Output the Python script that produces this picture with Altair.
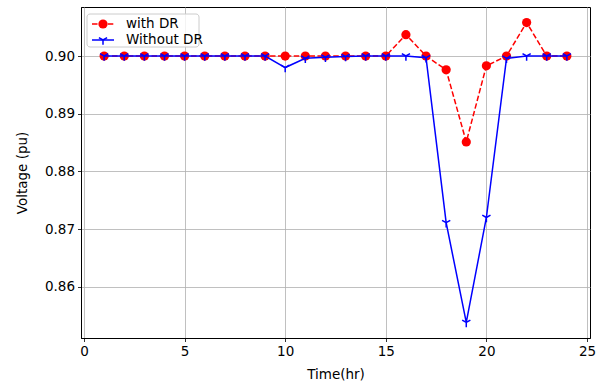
import altair as alt
import pandas as pd

hours = list(range(1, 25))
with_dr = [0.900] * 9 + [0.900, 0.900, 0.900, 0.900, 0.900, 0.900, 0.9037, 0.900,
                         0.8976, 0.8851, 0.8983, 0.900, 0.9058, 0.900, 0.900]
without_dr = [0.900] * 9 + [0.8980, 0.8996, 0.8998, 0.8999, 0.900, 0.900, 0.900, 0.8997,
                            0.8711, 0.8538, 0.8720, 0.8996, 0.900, 0.900, 0.900]
series_names = ["with DR", "Without DR"]
x_ticks = [0, 5, 10, 15, 20, 25]
y_ticks = [0.86, 0.87, 0.88, 0.89, 0.90]

df_r = pd.DataFrame({"t": hours, "v": with_dr})
df_b = pd.DataFrame({"t": hours, "v": without_dr})

FONT = "DejaVu Sans"
TRI = "M0,0L0,1M0,0L-0.866,-0.5M0,0L0.866,-0.5"

xs = alt.Scale(domain=[-0.15, 25.15], nice=False, zero=False)
ys = alt.Scale(domain=[0.8511, 0.9085], nice=False, zero=False)
xax = alt.Axis(values=x_ticks, title="Time(hr)", format="d", grid=True)
yax = alt.Axis(values=y_ticks, title="Voltage (pu)", format=".2f", grid=True)

X = alt.X("t:Q", scale=xs, axis=xax)
Y = alt.Y("v:Q", scale=ys, axis=yax)

red_line = alt.Chart(df_r).mark_line(color="#ff0000", strokeWidth=1.5, strokeDash=[5.5, 2.4]).encode(x=X, y=Y)
red_pts = alt.Chart(df_r).mark_point(shape="circle", filled=True, color="#ff0000", size=85, opacity=1).encode(x=X, y=Y)
blue_line = alt.Chart(df_b).mark_line(color="#0000ff", strokeWidth=1.5).encode(x=X, y=Y)
blue_pts = alt.Chart(df_b).mark_point(shape=TRI, filled=False, color="#0000ff", size=90, strokeWidth=1.5, opacity=1).encode(x=X, y=Y)

# legend
leg_df = pd.DataFrame({"name": series_names})
frame = alt.Chart(leg_df.head(1)).mark_rect(fill="white", fillOpacity=0.8, stroke="#cccccc", strokeWidth=1, cornerRadius=3).encode(
    x=alt.value(6), x2=alt.value(118), y=alt.value(7), y2=alt.value(40))
r_leg_line = alt.Chart(leg_df.head(1)).mark_rule(color="#ff0000", strokeWidth=1.5, strokeDash=[5.5, 2.4]).encode(
    x=alt.value(11), x2=alt.value(33), y=alt.value(17))
r_leg_pt = alt.Chart(leg_df.head(1)).mark_point(shape="circle", filled=True, color="#ff0000", size=85, opacity=1).encode(
    x=alt.value(22), y=alt.value(17))
b_leg_line = alt.Chart(leg_df.head(1)).mark_rule(color="#0000ff", strokeWidth=1.5).encode(
    x=alt.value(11), x2=alt.value(33), y=alt.value(33))
b_leg_pt = alt.Chart(leg_df.head(1)).mark_point(shape=TRI, filled=False, color="#0000ff", size=90, strokeWidth=1.5, opacity=1).encode(
    x=alt.value(22), y=alt.value(33))
r_leg_txt = alt.Chart(leg_df.head(1)).mark_text(align="left", baseline="middle", font=FONT, fontSize=13.5, color="black").encode(
    x=alt.value(45), y=alt.value(17), text="name:N")
b_leg_txt = alt.Chart(leg_df.tail(1)).mark_text(align="left", baseline="middle", font=FONT, fontSize=13.5, color="black").encode(
    x=alt.value(45), y=alt.value(33), text="name:N")

chart = alt.layer(
    red_line, red_pts, blue_line, blue_pts,
    frame, r_leg_line, r_leg_pt, b_leg_line, b_leg_pt, r_leg_txt, b_leg_txt
).properties(
    width=509, height=331,
    autosize=alt.AutoSizeParams(type="none"),
    padding={"left": 81, "top": 7, "right": 17, "bottom": 48},
    background="white",
).configure_view(
    stroke="black", strokeWidth=1
).configure_axis(
    gridColor="#b0b0b0", gridWidth=0.8, domainColor="black", domainWidth=1,
    tickColor="black", tickSize=3.5, tickWidth=0.8,
    labelFont=FONT, labelFontSize=13.5, labelColor="black", labelPadding=3,
    titleFont=FONT, titleFontSize=13.5, titleColor="black", titleFontWeight="normal",
).configure_axisX(titlePadding=9).configure_axisY(titlePadding=15)

chart.save("out.html", embed_options={"renderer": "svg", "actions": False})
